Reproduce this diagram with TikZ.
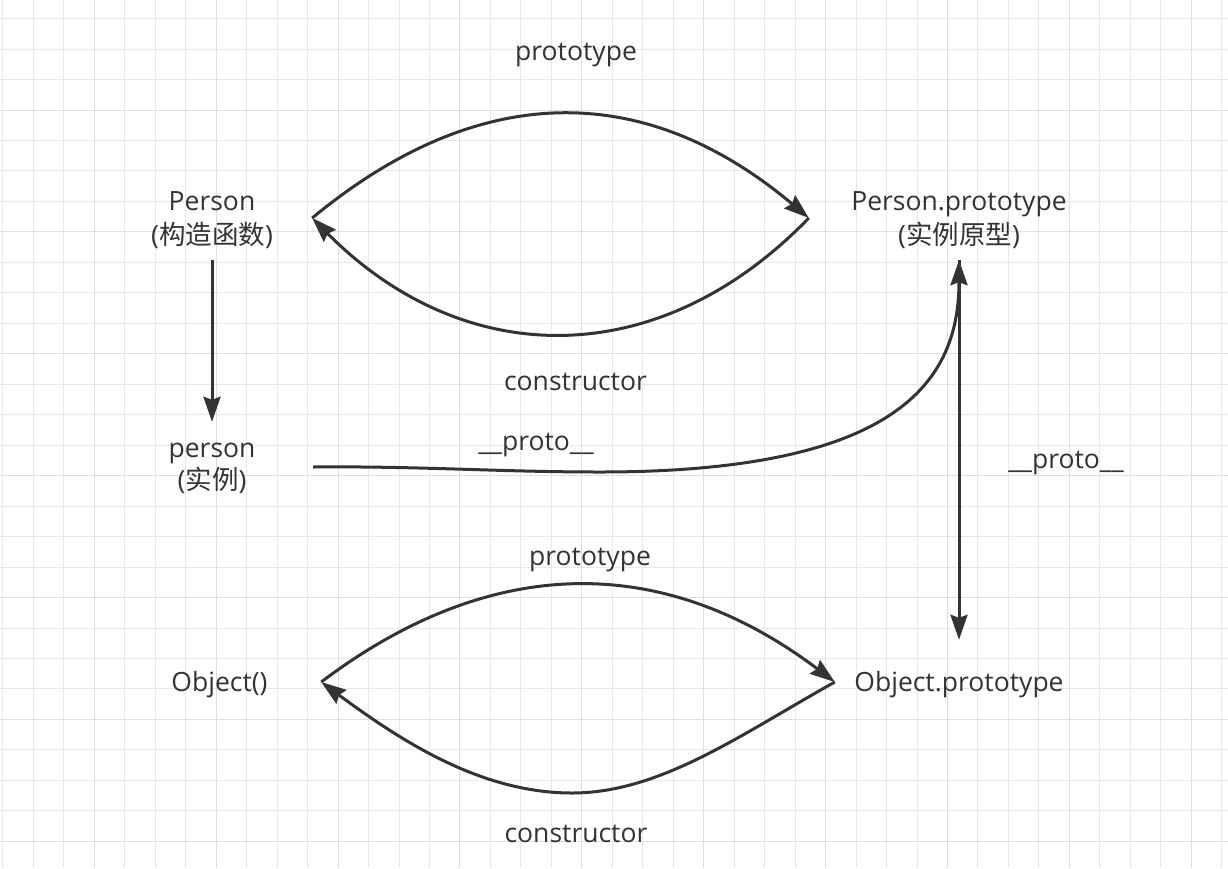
\documentclass[tikz,border=0pt]{standalone}
\usepackage{fontspec}
\setmainfont{Open Sans}
\newfontfamily\cjk{Noto Sans CJK SC}
\usetikzlibrary{arrows.meta}
\definecolor{ink}{HTML}{333333}
\definecolor{gridminor}{HTML}{E8E8E8}
\definecolor{gridmajor}{HTML}{DEDEDE}
\begin{document}
\begin{tikzpicture}[x=1pt,y=-1pt,
  txt/.style={inner sep=0pt, text=ink, font=\fontsize{26.5}{33.5}\selectfont, align=center},
  lbl/.style={inner sep=0pt, text=ink, font=\fontsize{26.5}{33.5}\selectfont, anchor=base},
  conn/.style={draw=ink, line width=3pt, -{Stealth[length=25pt,width=17pt,inset=3pt]}},
  minorgrid/.style={draw=gridminor, line width=1.3pt},
  majorgrid/.style={draw=gridmajor, line width=1.8pt}]
\fill[white] (0,0) rectangle (1228,868);
\useasboundingbox (0,0) rectangle (1228,868);
% grid
\foreach \k in {0,...,40} {
  \pgfmathsetmacro\gx{floor(2.9+30.47*\k)+0.5}
  \draw[minorgrid] (\gx,0) -- (\gx,868);
}
\foreach \k in {0,...,28} {
  \pgfmathsetmacro\gy{floor(18.6+30.47*\k)+0.5}
  \draw[minorgrid] (0,\gy) -- (1228,\gy);
}
\foreach \k in {3,7,...,39} {
  \pgfmathsetmacro\gx{floor(2.9+30.47*\k)+0.5}
  \draw[majorgrid] (\gx,0) -- (\gx,868);
}
\foreach \k in {3,7,...,27} {
  \pgfmathsetmacro\gy{floor(18.6+30.47*\k)+0.5}
  \draw[majorgrid] (0,\gy) -- (1228,\gy);
}
% nodes
\node[txt, minimum width=200pt, minimum height=84pt, text height=58pt, text depth=5.6pt] (P) at (212,218) {Person\\({\cjk 构造函数})};
\node[txt, minimum width=300pt, minimum height=84pt, text height=58pt, text depth=5.6pt] (PP) at (959,218) {Person.prototype\\({\cjk 实例原型})};
\node[txt, minimum width=202pt, minimum height=90pt, text height=50pt, text depth=5.6pt] (inst) at (212,467) {person\\[-2pt]({\cjk 实例})};
\node[txt, minimum width=203pt, minimum height=84pt, text height=22pt, text depth=2.6pt] (O) at (219.5,682) {Object()};
\node[txt, minimum width=248pt, minimum height=84pt, text height=22pt, text depth=2.6pt] (OP) at (959,682) {Object.prototype};
% labels
\node[lbl] (l1) at (576,60) {prototype};
\node[lbl] (l2) at (575.5,390) {constructor};
\node[lbl] (l3) at (536,450) {\_\_proto\_\_};
\node[lbl] (l4) at (1066,468) {\_\_proto\_\_};
\node[lbl] (l5) at (590,565) {prototype};
\node[lbl] (l6) at (576,842) {constructor};
% connectors
\draw[conn] (P.east) .. controls (479,80) and (645,80) .. (PP.west);
\draw[conn] (PP.west) .. controls (660,372) and (465,372) .. (P.east);
\draw[conn] (P.south) -- (inst.north);
\draw[conn] (inst.east) .. controls (420,466) and (500,472) .. (600,472) .. controls (900,472) and (959,380) .. (PP.south);
\draw[conn] (PP.south) -- (OP.north);
\draw[conn] (O.east) .. controls (492,553) and (664,553) .. (OP.west);
\draw[conn] (OP.west) .. controls (740,735) and (660,793) .. (572,793) .. controls (480,793) and (400,740) .. (O.east);
\end{tikzpicture}
\end{document}
